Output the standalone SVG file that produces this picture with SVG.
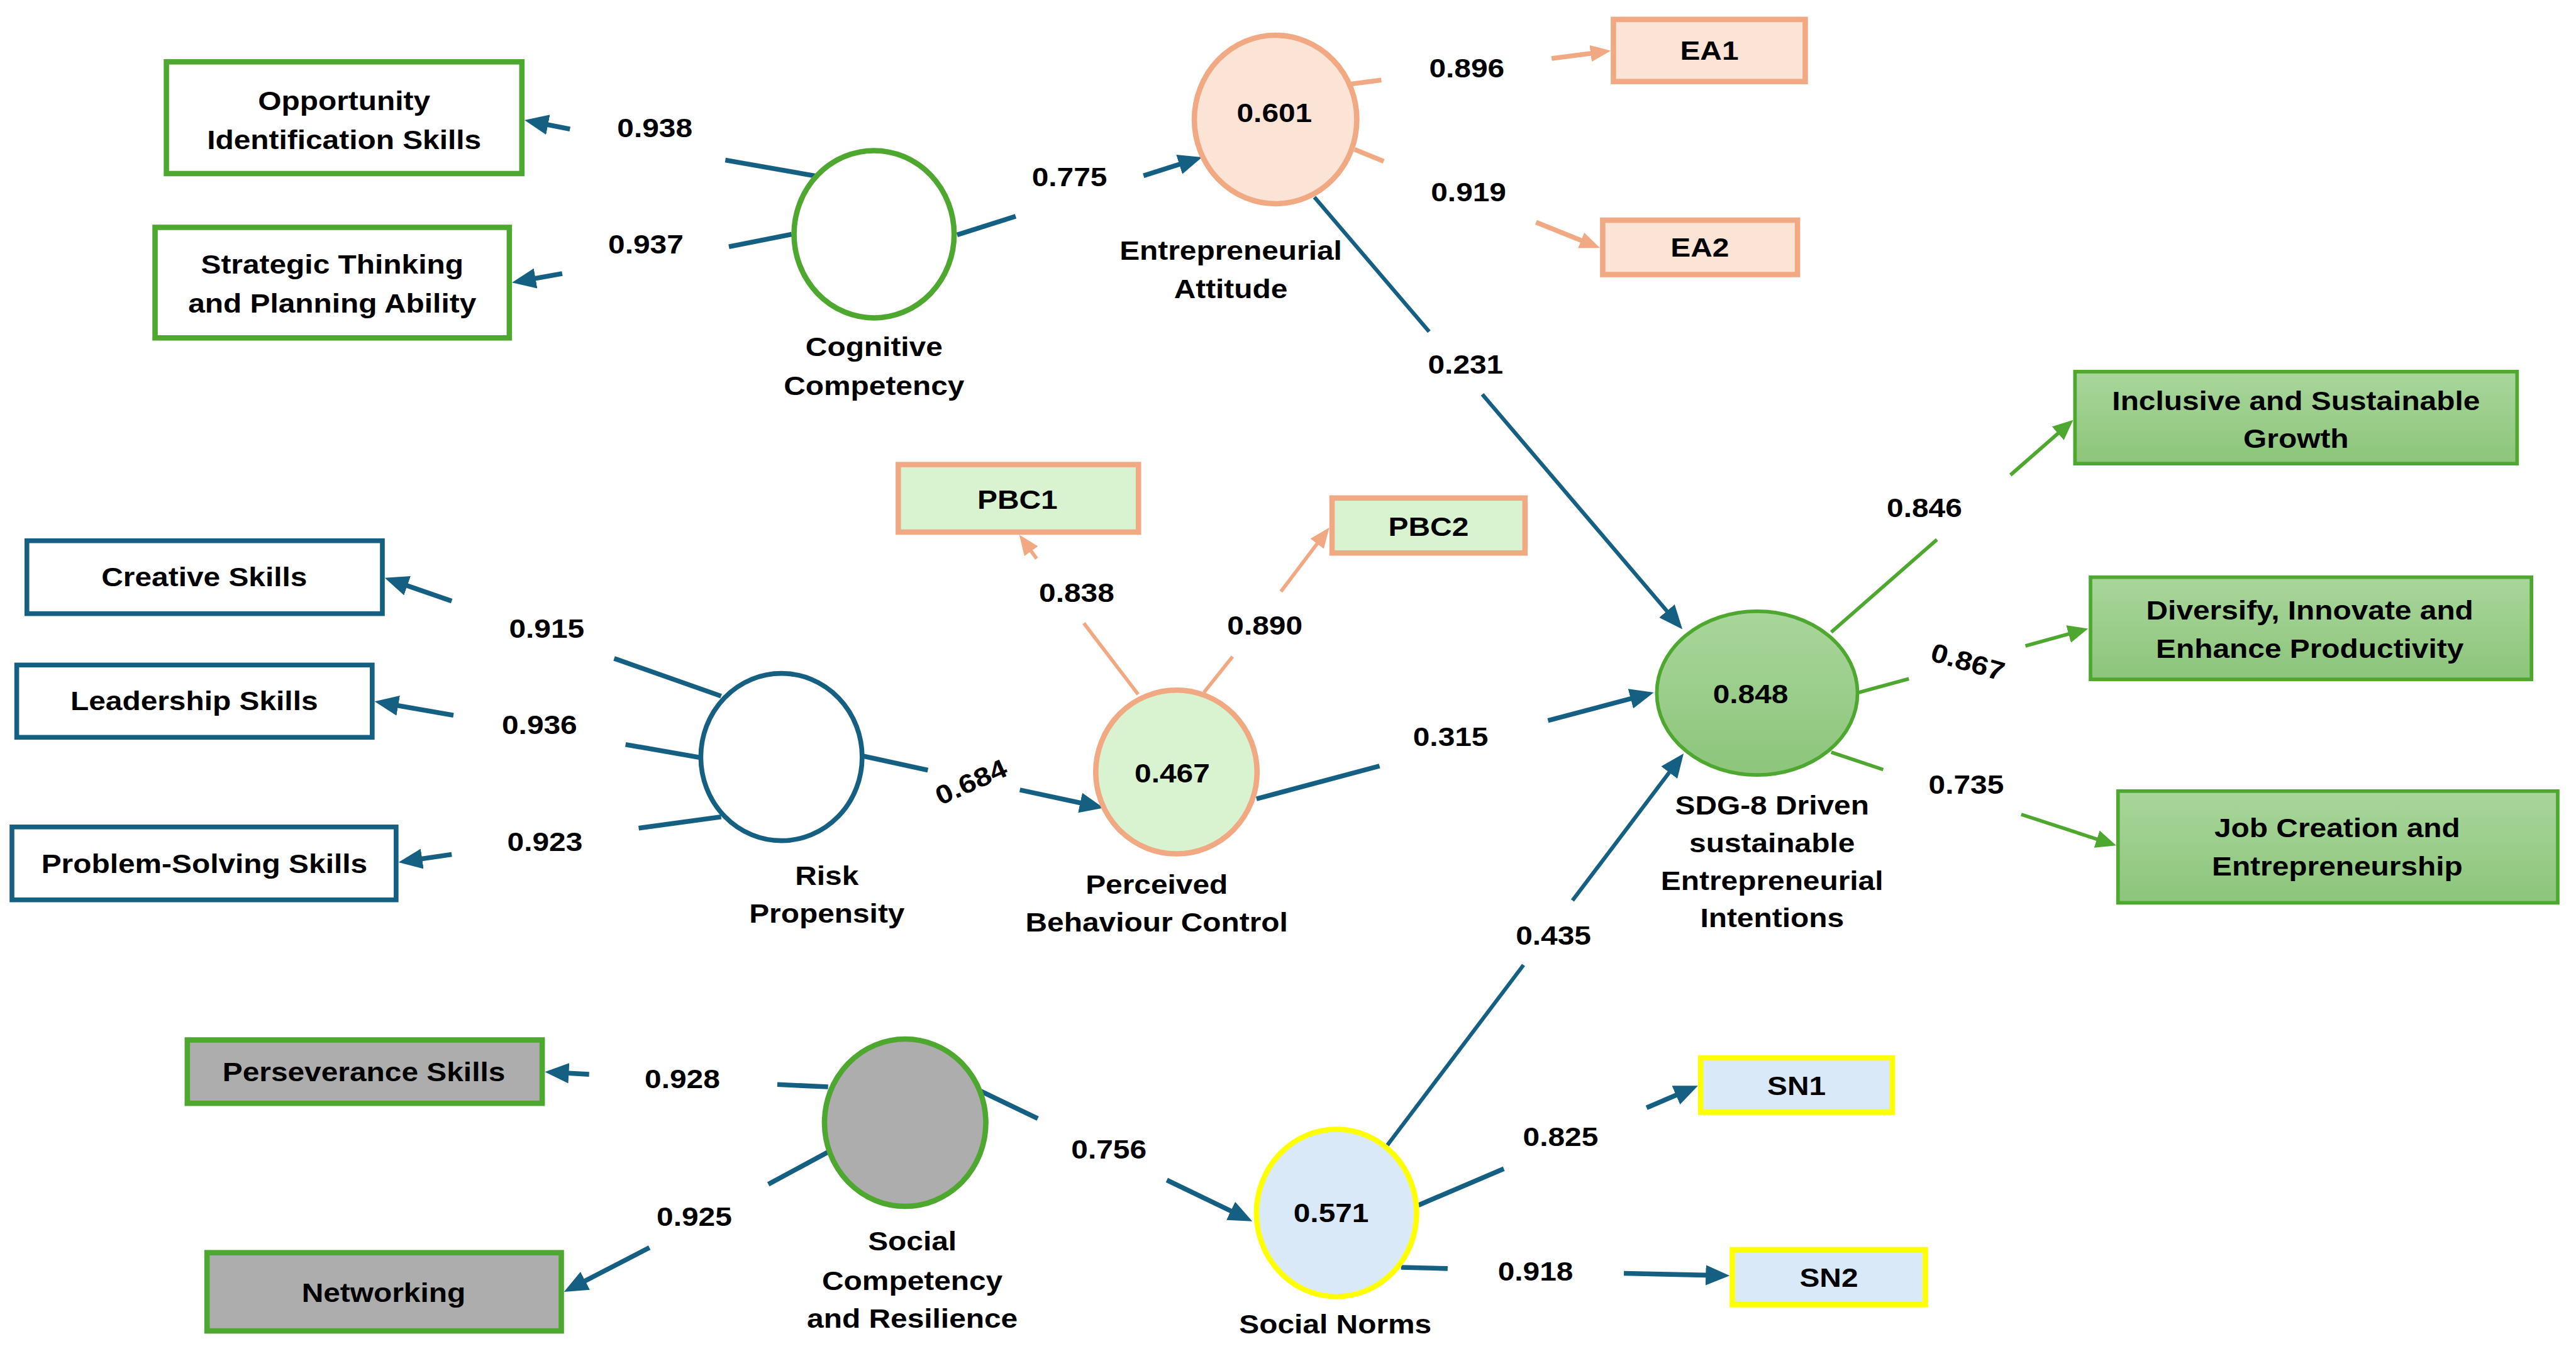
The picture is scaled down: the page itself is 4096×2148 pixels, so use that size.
<svg xmlns="http://www.w3.org/2000/svg" width="4096" height="2148" viewBox="0 0 4096 2148">
<style>
.t{font-family:"Liberation Sans",Arial,"DejaVu Sans",sans-serif;font-weight:bold;font-size:44px;fill:#000;text-anchor:middle}
.lb{stroke:#156082;stroke-width:8;fill:none}
.lbt{stroke:#156082;stroke-width:6.5;fill:none}
.lo{stroke:#F1A983;stroke-width:8;fill:none}
.lot{stroke:#F1A983;stroke-width:6;fill:none}
.lg{stroke:#4EA72E;stroke-width:6;fill:none}
.bxg{fill:#fff;stroke:#4EA72E;stroke-width:9}
.bxb{fill:#fff;stroke:#156082;stroke-width:8}
.bxo{fill:#FBE3D6;stroke:#F1A983;stroke-width:9}
.bxp{fill:#D9F2D0;stroke:#F1A983;stroke-width:9}
.bxy{fill:#DAE9F8;stroke:#FFFF00;stroke-width:9}
.bxgr{fill:#ADADAD;stroke:#4EA72E;stroke-width:9}
.bxgg{fill:url(#gg);stroke:#4EA72E;stroke-width:6}
</style>
<defs>
<linearGradient id="gg" x1="0" y1="0" x2="0" y2="1">
<stop offset="0" stop-color="#A9D69B"/>
<stop offset="1" stop-color="#8CC57B"/>
</linearGradient>
<marker id="mb" markerUnits="userSpaceOnUse" markerWidth="40" markerHeight="34" refX="10" refY="17" orient="auto"><path d="M0,0 L40,17 L0,34 z" fill="#156082"/></marker>
<marker id="mo" markerUnits="userSpaceOnUse" markerWidth="34" markerHeight="28" refX="10" refY="14" orient="auto"><path d="M0,0 L34,14 L0,28 z" fill="#F1A983"/></marker>
<marker id="mg" markerUnits="userSpaceOnUse" markerWidth="34" markerHeight="30" refX="10" refY="15" orient="auto"><path d="M0,0 L34,15 L0,30 z" fill="#4EA72E"/></marker>
</defs>
<rect x="0" y="0" width="4096" height="2148" fill="#fff"/>
<g transform="scale(0.95)">
<g id="connectors">
<g id="c-cog-opp"><line class="lb" x1="1368" y1="295" x2="1214" y2="268"/><line class="lb" x1="954" y1="216" x2="907.4" y2="206.8" marker-end="url(#mb)"/><text class="t" transform="translate(1096 0) scale(1.145 1)" x="0" y="230">0.938</text></g>
<g id="c-cog-stp"><line class="lb" x1="1325" y1="392" x2="1220" y2="413"/><line class="lb" x1="941" y1="458" x2="886.5" y2="467.7" marker-end="url(#mb)"/><text class="t" transform="translate(1081 0) scale(1.145 1)" x="0" y="424">0.937</text></g>
<g id="c-cog-ea"><line class="lb" x1="1602" y1="393" x2="1700" y2="362"/><line class="lb" x1="1914" y1="294" x2="1983.4" y2="272.1" marker-end="url(#mb)"/><text class="t" transform="translate(1790 0) scale(1.145 1)" x="0" y="312">0.775</text></g>
<g id="c-ea-ea1"><line class="lo" x1="2258" y1="141" x2="2312" y2="134"/><line class="lo" x1="2597" y1="98" x2="2672.2" y2="88.1" marker-end="url(#mo)"/><text class="t" transform="translate(2455 0) scale(1.145 1)" x="0" y="129">0.896</text></g>
<g id="c-ea-ea2"><line class="lo" x1="2267" y1="250" x2="2316" y2="270"/><line class="lo" x1="2571" y1="372" x2="2655.7" y2="406" marker-end="url(#mo)"/><text class="t" transform="translate(2458 0) scale(1.145 1)" x="0" y="337">0.919</text></g>
<g id="c-ea-sdg"><line class="lbt" x1="2200" y1="330" x2="2392" y2="555"/><line class="lbt" x1="2481" y1="660" x2="2796.5" y2="1030.2" marker-end="url(#mb)"/><text class="t" transform="translate(2453 0) scale(1.145 1)" x="0" y="625">0.231</text></g>
<g id="c-pbc-sdg"><line class="lb" x1="2103" y1="1337" x2="2309" y2="1282"/><line class="lb" x1="2591" y1="1206" x2="2739" y2="1166.7" marker-end="url(#mb)"/><text class="t" transform="translate(2428 0) scale(1.145 1)" x="0" y="1248">0.315</text></g>
<g id="c-sn-sdg"><line class="lbt" x1="2321" y1="1918" x2="2550" y2="1615"/><line class="lbt" x1="2632" y1="1507" x2="2799.9" y2="1284.9" marker-end="url(#mb)"/><text class="t" transform="translate(2600 0) scale(1.145 1)" x="0" y="1581">0.435</text></g>
<g id="c-sdg-inc"><line class="lg" x1="3065" y1="1058" x2="3242" y2="903"/><line class="lg" x1="3365" y1="795" x2="3452" y2="718.8" marker-end="url(#mg)"/><text class="t" transform="translate(3221 0) scale(1.145 1)" x="0" y="865">0.846</text></g>
<g id="c-sdg-div"><line class="lg" x1="3111" y1="1159" x2="3195" y2="1136"/><line class="lg" x1="3390" y1="1081" x2="3471.9" y2="1058.4" marker-end="url(#mg)"/><text class="t" transform="translate(3294 1107) rotate(16) scale(1.145 1)" x="0" y="16">0.867</text></g>
<g id="c-sdg-job"><line class="lg" x1="3065" y1="1259" x2="3152" y2="1288"/><line class="lg" x1="3383" y1="1363" x2="3519.2" y2="1407.5" marker-end="url(#mg)"/><text class="t" transform="translate(3291 0) scale(1.145 1)" x="0" y="1328">0.735</text></g>
<g id="c-risk-cre"><line class="lb" x1="1207" y1="1165" x2="1028" y2="1102"/><line class="lb" x1="756" y1="1006" x2="672.3" y2="976.9" marker-end="url(#mb)"/><text class="t" transform="translate(915 0) scale(1.145 1)" x="0" y="1067">0.915</text></g>
<g id="c-risk-lea"><line class="lb" x1="1172" y1="1268" x2="1047" y2="1246"/><line class="lb" x1="759" y1="1197" x2="656.6" y2="1179.2" marker-end="url(#mb)"/><text class="t" transform="translate(903 0) scale(1.145 1)" x="0" y="1228">0.936</text></g>
<g id="c-risk-pro"><line class="lb" x1="1207" y1="1367" x2="1069" y2="1386"/><line class="lb" x1="756" y1="1430" x2="696.7" y2="1438.7" marker-end="url(#mb)"/><text class="t" transform="translate(912 0) scale(1.145 1)" x="0" y="1424">0.923</text></g>
<g id="c-risk-pbc"><line class="lb" x1="1443" y1="1265" x2="1553" y2="1289"/><line class="lb" x1="1707" y1="1322" x2="1817.7" y2="1345.7" marker-end="url(#mb)"/><text class="t" transform="translate(1625 1308) rotate(-24) scale(1.145 1)" x="0" y="16">0.684</text></g>
<g id="c-pbc-pbc1"><line class="lot" x1="1905" y1="1162" x2="1814" y2="1043"/><line class="lot" x1="1735" y1="935" x2="1720.1" y2="914.4" marker-end="url(#mo)"/><text class="t" transform="translate(1802 0) scale(1.145 1)" x="0" y="1007">0.838</text></g>
<g id="c-pbc-pbc2"><line class="lot" x1="2015" y1="1159" x2="2063" y2="1099"/><line class="lot" x1="2144" y1="990" x2="2210.5" y2="902.1" marker-end="url(#mo)"/><text class="t" transform="translate(2117 0) scale(1.145 1)" x="0" y="1062">0.890</text></g>
<g id="c-sc-per"><line class="lb" x1="1386" y1="1819" x2="1301" y2="1815"/><line class="lb" x1="986" y1="1798" x2="942" y2="1795.6" marker-end="url(#mb)"/><text class="t" transform="translate(1142 0) scale(1.145 1)" x="0" y="1821">0.928</text></g>
<g id="c-sc-net"><line class="lb" x1="1386" y1="1928" x2="1286" y2="1982"/><line class="lb" x1="1087" y1="2088" x2="970.6" y2="2148.2" marker-end="url(#mb)"/><text class="t" transform="translate(1162 0) scale(1.145 1)" x="0" y="2052">0.925</text></g>
<g id="c-sc-sn"><line class="lb" x1="1639" y1="1825" x2="1737" y2="1872"/><line class="lb" x1="1953" y1="1975" x2="2069" y2="2031" marker-end="url(#mb)"/><text class="t" transform="translate(1856 0) scale(1.145 1)" x="0" y="1939">0.756</text></g>
<g id="c-sn-sn1"><line class="lb" x1="2374" y1="2017" x2="2517" y2="1956"/><line class="lb" x1="2756" y1="1854" x2="2814.4" y2="1828.9" marker-end="url(#mb)"/><text class="t" transform="translate(2612 0) scale(1.145 1)" x="0" y="1918">0.825</text></g>
<g id="c-sn-sn2"><line class="lb" x1="2345" y1="2121" x2="2423" y2="2123"/><line class="lb" x1="2718" y1="2131" x2="2865" y2="2134.3" marker-end="url(#mb)"/><text class="t" transform="translate(2570 0) scale(1.145 1)" x="0" y="2143">0.918</text></g>
</g>
<g id="n-opp"><rect class="bxg" x="278.5" y="103.5" width="595" height="187"/><text class="t" transform="translate(576 0) scale(1.145 1)"><tspan x="0" y="184">Opportunity</tspan><tspan x="0" y="249">Identification Skills</tspan></text></g>
<g id="n-stp"><rect class="bxg" x="259.5" y="380.5" width="593" height="185"/><text class="t" transform="translate(556 0) scale(1.145 1)"><tspan x="0" y="458">Strategic Thinking</tspan><tspan x="0" y="523">and Planning Ability</tspan></text></g>
<g id="n-cog"><ellipse class="bxg" cx="1463" cy="392" rx="134" ry="140"/><text class="t" transform="translate(1463 0) scale(1.145 1)"><tspan x="0" y="596">Cognitive</tspan><tspan x="0" y="661">Competency</tspan></text></g>
<g id="n-ea"><ellipse class="bxo" cx="2135" cy="200" rx="136" ry="141"/><text class="t" transform="translate(2133 0) scale(1.145 1)" x="0" y="204">0.601</text><text class="t" transform="translate(2060 0) scale(1.145 1)"><tspan x="0" y="435">Entrepreneurial</tspan><tspan x="0" y="499">Attitude</tspan></text></g>
<g id="n-ea1"><rect class="bxo" x="2700.5" y="32.5" width="321" height="104"/><text class="t" transform="translate(2861 0) scale(1.145 1)" x="0" y="100">EA1</text></g>
<g id="n-ea2"><rect class="bxo" x="2682.5" y="368.5" width="326" height="91"/><text class="t" transform="translate(2845 0) scale(1.145 1)" x="0" y="429">EA2</text></g>
<g id="n-sdg"><ellipse class="bxgg" cx="2941" cy="1160" rx="168" ry="137"/><text class="t" transform="translate(2930 0) scale(1.145 1)" x="0" y="1177">0.848</text><text class="t" transform="translate(2966 0) scale(1.145 1)"><tspan x="0" y="1363">SDG-8 Driven</tspan><tspan x="0" y="1426">sustainable</tspan><tspan x="0" y="1489">Entrepreneurial</tspan><tspan x="0" y="1552">Intentions</tspan></text></g>
<g id="n-inc"><rect class="bxgg" x="3473" y="622" width="740" height="154"/><text class="t" transform="translate(3843 0) scale(1.145 1)"><tspan x="0" y="686">Inclusive and Sustainable</tspan><tspan x="0" y="749">Growth</tspan></text></g>
<g id="n-div"><rect class="bxgg" x="3499" y="966" width="738" height="171"/><text class="t" transform="translate(3866 0) scale(1.145 1)"><tspan x="0" y="1037">Diversify, Innovate and</tspan><tspan x="0" y="1101">Enhance Productivity</tspan></text></g>
<g id="n-job"><rect class="bxgg" x="3545" y="1324" width="736" height="187"/><text class="t" transform="translate(3912 0) scale(1.145 1)"><tspan x="0" y="1401">Job Creation and</tspan><tspan x="0" y="1465">Entrepreneurship</tspan></text></g>
<g id="n-cre"><rect class="bxb" x="45" y="905" width="595" height="122"/><text class="t" transform="translate(342 0) scale(1.145 1)" x="0" y="981">Creative Skills</text></g>
<g id="n-lea"><rect class="bxb" x="28" y="1113" width="595" height="121"/><text class="t" transform="translate(325 0) scale(1.145 1)" x="0" y="1188">Leadership Skills</text></g>
<g id="n-pro"><rect class="bxb" x="20" y="1384" width="643" height="122"/><text class="t" transform="translate(342 0) scale(1.145 1)" x="0" y="1461">Problem-Solving Skills</text></g>
<g id="n-risk"><ellipse class="bxb" cx="1308" cy="1267" rx="135" ry="140"/><text class="t" transform="translate(1384 0) scale(1.145 1)"><tspan x="0" y="1481">Risk</tspan><tspan x="0" y="1544">Propensity</tspan></text></g>
<g id="n-pbc"><ellipse class="bxp" cx="1969" cy="1292" rx="135" ry="137"/><text class="t" transform="translate(1962 0) scale(1.145 1)" x="0" y="1309">0.467</text><text class="t" transform="translate(1936 0) scale(1.145 1)"><tspan x="0" y="1496">Perceived</tspan><tspan x="0" y="1559">Behaviour Control</tspan></text></g>
<g id="n-pbc1"><rect class="bxp" x="1503.5" y="777.5" width="402" height="113"/><text class="t" transform="translate(1703 0) scale(1.145 1)" x="0" y="852">PBC1</text></g>
<g id="n-pbc2"><rect class="bxp" x="2229.5" y="833.5" width="323" height="92"/><text class="t" transform="translate(2391 0) scale(1.145 1)" x="0" y="897">PBC2</text></g>
<g id="n-per"><rect class="bxgr" x="313.5" y="1740.5" width="594" height="106"/><text class="t" transform="translate(609 0) scale(1.145 1)" x="0" y="1809">Perseverance Skills</text></g>
<g id="n-net"><rect class="bxgr" x="346.5" y="2096.5" width="593" height="131"/><text class="t" transform="translate(642 0) scale(1.145 1)" x="0" y="2179">Networking</text></g>
<g id="n-sc"><ellipse class="bxgr" cx="1515" cy="1879" rx="135" ry="140"/><text class="t" transform="translate(1527 0) scale(1.145 1)"><tspan x="0" y="2093">Social</tspan><tspan x="0" y="2159">Competency</tspan><tspan x="0" y="2222">and Resilience</tspan></text></g>
<g id="n-sn"><ellipse class="bxy" cx="2237" cy="2030" rx="134" ry="140" stroke-width="10"/><text class="t" transform="translate(2228 0) scale(1.145 1)" x="0" y="2045">0.571</text><text class="t" transform="translate(2235 0) scale(1.145 1)" x="0" y="2232">Social Norms</text></g>
<g id="n-sn1"><rect class="bxy" x="2846.5" y="1770.5" width="321" height="91"/><text class="t" transform="translate(3007 0) scale(1.145 1)" x="0" y="1833">SN1</text></g>
<g id="n-sn2"><rect class="bxy" x="2899.5" y="2091.5" width="323" height="92"/><text class="t" transform="translate(3061 0) scale(1.145 1)" x="0" y="2154">SN2</text></g>
</g>
</svg>
